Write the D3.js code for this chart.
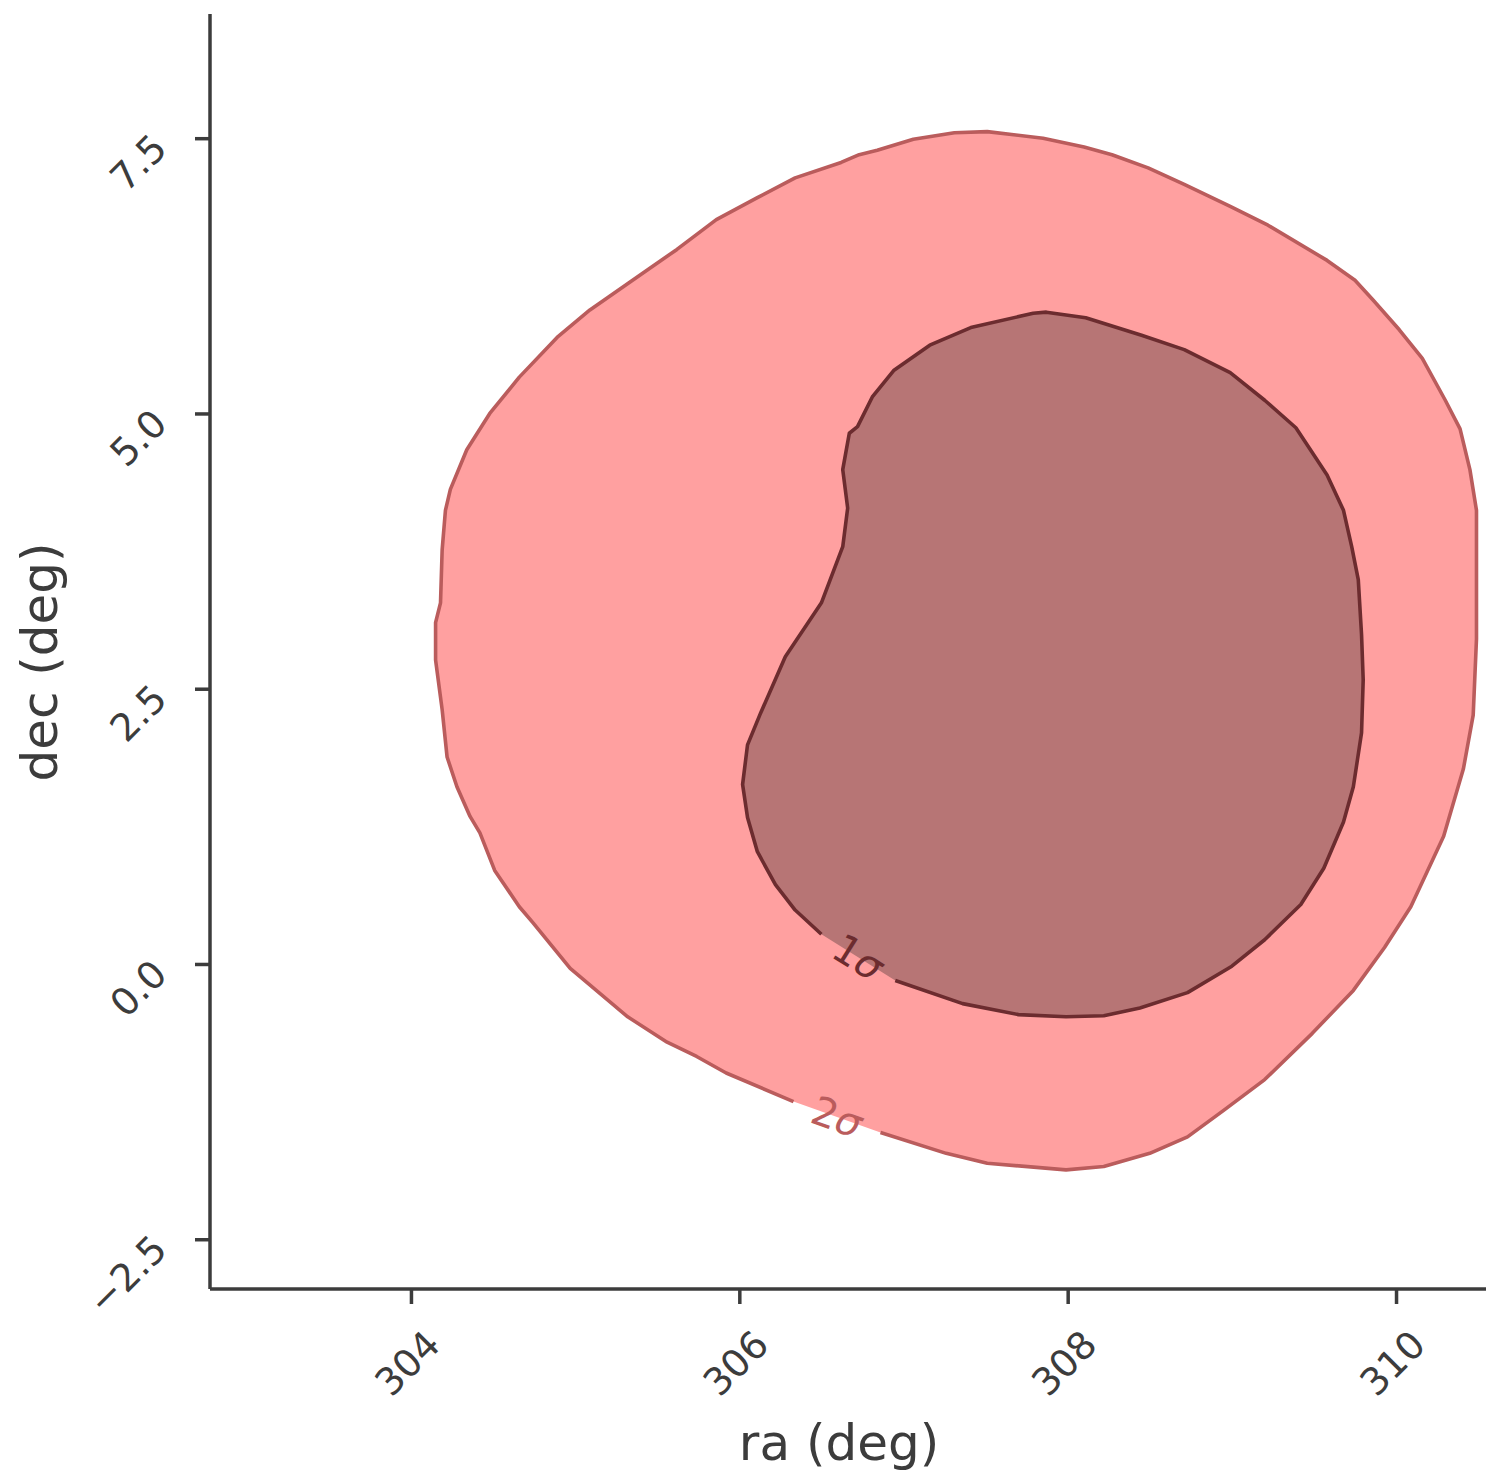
<!DOCTYPE html>
<html>
<head>
<meta charset="utf-8">
<script src="https://cdn.jsdelivr.net/npm/d3@7"></script>
<style>
  html, body { margin: 0; padding: 0; background: #ffffff; }
  svg { display: block; }
</style>
</head>
<body>
<svg id="chart" width="1499" height="1484"></svg>
<script>
// ---------------- data ----------------
const raDomain = [302.776, 310.548];
const decDomain = [-2.952, 8.628];
const raTicks = [304, 306, 308, 310];
const raTickLabels = ["304", "306", "308", "310"];
const decTicks = [-2.5, 0.0, 2.5, 5.0, 7.5];
const decTickLabels = ["\u22122.5", "0.0", "2.5", "5.0", "7.5"];
const xLabel = "ra (deg)";
const yLabel = "dec (deg)";

// 2-sigma contour (open at the label gap: starts just after the label, ends just before it)
const contour2 = [
  [306.33,-1.25],[305.92,-0.99],[305.74,-0.84],[305.56,-0.71],[305.32,-0.48],
  [304.97,-0.04],[304.74,0.38],[304.66,0.52],[304.51,0.85],[304.42,1.19],
  [304.36,1.34],[304.28,1.61],[304.22,1.88],[304.19,2.31],[304.15,2.76],
  [304.15,3.10],[304.18,3.28],[304.19,3.76],[304.21,4.12],[304.24,4.31],
  [304.34,4.67],[304.48,5.00],[304.66,5.33],[304.89,5.69],[305.09,5.94],
  [305.35,6.21],[305.62,6.49],[305.86,6.76],[306.11,6.96],[306.34,7.14],
  [306.62,7.28],[306.73,7.35],[306.84,7.39],[307.06,7.49],[307.31,7.55],
  [307.51,7.56],[307.85,7.50],[308.10,7.42],[308.27,7.35],[308.49,7.23],
  [308.71,7.08],[308.99,6.88],[309.22,6.71],[309.58,6.39],[309.75,6.21],
  [309.86,6.03],[310.02,5.76],[310.16,5.50],[310.30,5.12],[310.39,4.86],
  [310.45,4.49],[310.49,4.12],[310.49,3.43],[310.49,2.95],[310.47,2.26],
  [310.41,1.77],[310.29,1.16],[310.09,0.52],[309.93,0.15],[309.74,-0.24],
  [309.49,-0.63],[309.20,-1.05],[308.95,-1.33],[308.73,-1.57],[308.50,-1.72],
  [308.22,-1.84],[307.99,-1.87],[307.51,-1.81],[307.26,-1.72],[306.86,-1.53]
];

// 1-sigma contour
const contour1 = [
  [306.50,0.27],[306.34,0.49],[306.22,0.72],[306.11,1.02],[306.05,1.33],
  [306.02,1.63],[306.05,1.99],[306.13,2.28],[306.28,2.79],[306.50,3.28],
  [306.63,3.79],[306.66,4.14],[306.63,4.49],[306.67,4.82],[306.72,4.88],
  [306.81,5.15],[306.94,5.39],[307.16,5.62],[307.41,5.78],[307.79,5.91],
  [307.87,5.92],[308.11,5.87],[308.45,5.71],[308.71,5.58],[308.99,5.37],
  [309.20,5.12],[309.39,4.87],[309.58,4.44],[309.68,4.12],[309.73,3.79],
  [309.77,3.49],[309.79,2.99],[309.80,2.58],[309.79,2.10],[309.74,1.61],
  [309.68,1.29],[309.56,0.87],[309.42,0.54],[309.20,0.22],[309.00,-0.02],
  [308.73,-0.26],[308.44,-0.40],[308.22,-0.47],[307.99,-0.48],[307.70,-0.46],
  [307.36,-0.36],[306.95,-0.15]
];

const levelNames = ["2", "1"];

// ---------------- layout ----------------
const svg = d3.select("#chart");
const plot = { left: 210, right: 1486, top: 14, bottom: 1289 };
const axisColor = "#3c3c3c";
const font = "'DejaVu Sans', sans-serif";

const x = d3.scaleLinear().domain(raDomain).range([plot.left, plot.right]);
const y = d3.scaleLinear().domain(decDomain).range([plot.bottom, plot.top]);

const line = d3.line().x(d => x(d[0])).y(d => y(d[1]));

const levels = [
  { pts: contour2, name: levelNames[0], fill: "#ffa0a0", stroke: "#ba5c5c" },
  { pts: contour1, name: levelNames[1], fill: "#b77575", stroke: "#6c2c2f" }
];

const g = svg.append("g");
levels.forEach(lv => {
  g.append("path").attr("d", line(lv.pts) + "Z")
    .attr("fill", lv.fill).attr("stroke", "none");
});
levels.forEach(lv => {
  g.append("path").attr("d", line(lv.pts))
    .attr("fill", "none").attr("stroke", lv.stroke)
    .attr("stroke-width", 3.6).attr("stroke-linejoin", "round");
  // label in the gap between last and first point
  const a = lv.pts[lv.pts.length - 1], b = lv.pts[0];
  const ax = x(a[0]), ay = y(a[1]), bx = x(b[0]), by = y(b[1]);
  let cx = (ax + bx) / 2, cy = (ay + by) / 2;
  let ang = Math.atan2(by - ay, bx - ax) * 180 / Math.PI;
  if (ang > 90) ang -= 180;
  if (ang < -90) ang += 180;
  const t = g.append("text")
    .attr("x", cx).attr("y", cy)
    .attr("transform", `rotate(${ang},${cx},${cy})`)
    .attr("text-anchor", "middle")
    .attr("dominant-baseline", "central")
    .attr("font-family", font).attr("font-size", 40)
    .attr("fill", lv.stroke);
  t.append("tspan").text(lv.name);
  t.append("tspan").attr("font-style", "italic").text("\u03c3");
});

// ---------------- axes ----------------
const xAxis = svg.append("g").attr("transform", `translate(0,${plot.bottom})`)
  .call(d3.axisBottom(x).tickValues(raTicks).tickFormat((d, i) => raTickLabels[i])
    .tickSize(15).tickSizeOuter(0));
const yAxis = svg.append("g").attr("transform", `translate(${plot.left},0)`)
  .call(d3.axisLeft(y).tickValues(decTicks).tickFormat((d, i) => decTickLabels[i])
    .tickSize(15).tickSizeOuter(0));

[xAxis, yAxis].forEach(ax => {
  ax.select(".domain").attr("stroke", axisColor).attr("stroke-width", 3.5);
  ax.selectAll(".tick line").attr("stroke", axisColor).attr("stroke-width", 3.5);
  ax.selectAll(".tick text").attr("fill", axisColor)
    .attr("font-family", font).attr("font-size", 38);
});
xAxis.select(".domain").attr("d", `M${plot.left},0H${plot.right}`);
yAxis.select(".domain").attr("d", `M0,${plot.top}V${plot.bottom}`);

xAxis.selectAll(".tick text")
  .attr("text-anchor", "end").attr("dy", null)
  .attr("x", 31).attr("y", 58)
  .attr("transform", "rotate(-45,31,58)");
yAxis.selectAll(".tick text")
  .attr("text-anchor", "end").attr("dy", null)
  .attr("x", -41).attr("y", 12)
  .attr("transform", "rotate(-45,-41,12)");

svg.append("text")
  .attr("x", 839).attr("y", 1460)
  .attr("text-anchor", "middle")
  .attr("font-family", font).attr("font-size", 50).attr("fill", axisColor)
  .text(xLabel);
svg.append("text")
  .attr("transform", `translate(57,662) rotate(-90)`)
  .attr("text-anchor", "middle")
  .attr("font-family", font).attr("font-size", 50).attr("fill", axisColor)
  .text(yLabel);
</script>
</body>
</html>
